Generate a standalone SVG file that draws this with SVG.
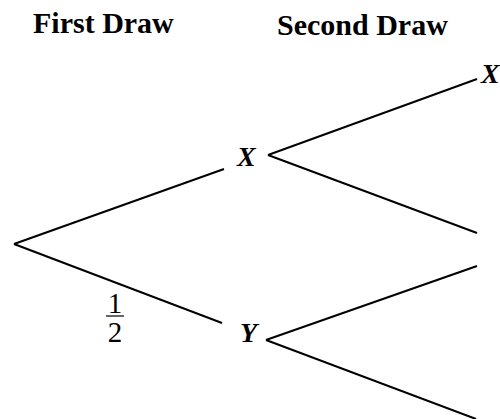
<svg xmlns="http://www.w3.org/2000/svg" width="500" height="419" viewBox="0 0 500 419">
<style>
.title{font-family:"Liberation Serif",serif;font-weight:bold;font-size:30px;fill:#000}
.node{font-family:"Liberation Serif",serif;font-weight:bold;font-style:italic;font-size:28px;fill:#000}
.num{font-family:"Liberation Serif",serif;font-size:29px;fill:#000}
.edge{stroke:#000;stroke-width:2;fill:none}
</style>
<rect width="500" height="419" fill="#fff"/>
<text class="title" x="33" y="33">First Draw</text>
<text class="title" x="277" y="35">Second Draw</text>
<g id="connectors">
<line class="edge" x1="14" y1="244" x2="224" y2="169"/>
<line class="edge" x1="14" y1="244" x2="222" y2="323"/>
<line class="edge" x1="268" y1="155" x2="477" y2="79"/>
<line class="edge" x1="268" y1="155" x2="477" y2="233"/>
<line class="edge" x1="266" y1="340" x2="477" y2="266"/>
<line class="edge" x1="266" y1="340" x2="476" y2="419"/>
<line stroke="#000" stroke-width="1.2" x1="106" y1="316" x2="124" y2="316"/>
</g>
<g id="label-half">
<text class="num" x="115" y="313" text-anchor="middle">1</text>
<text class="num" x="115" y="342" text-anchor="middle">2</text>
</g>
<g id="node-X"><text class="node" x="237" y="166">X</text></g>
<g id="node-Y"><text class="node" x="240" y="342">Y</text></g>
<g id="node-X2"><text class="node" x="481" y="83">X</text></g>
</svg>
